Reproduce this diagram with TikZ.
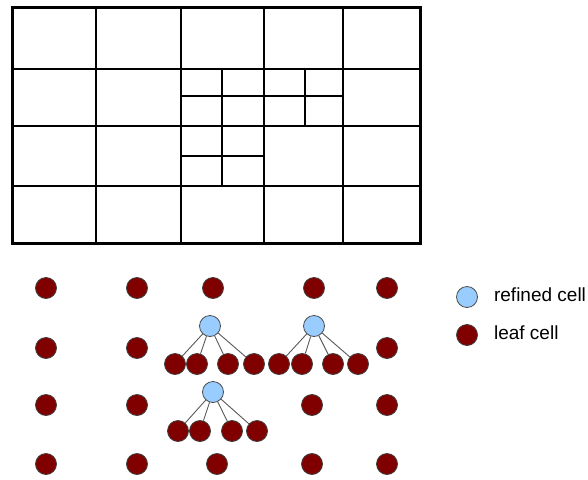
\documentclass[tikz,border=0pt]{standalone}
\usepackage{fontspec}
\setmainfont{Liberation Sans}
\usetikzlibrary{positioning}
\definecolor{leafred}{RGB}{128,0,0}
\definecolor{refinedblue}{RGB}{153,204,255}
\tikzset{
    cellline/.style={line width=1.6pt, black},
    outline/.style={line width=3pt, black},
    leaf/.style={circle, minimum size=21pt, inner sep=0pt, draw=black!75, line width=0.8pt, fill=leafred},
    refined/.style={circle, minimum size=21pt, inner sep=0pt, draw=black!70, line width=0.8pt, fill=refinedblue},
    edge/.style={draw=black!65, line width=0.9pt},
    legendtext/.style={font=\fontsize{19}{22}\selectfont, anchor=west, inner sep=0pt}
}
\begin{document}
\begin{tikzpicture}[x=1pt, y=-1pt]
    \useasboundingbox (0,0) rectangle (588,479);
    % mesh
    \draw [cellline] (96,7) -- (96,243);
    \draw [cellline] (181,7) -- (181,243);
    \draw [cellline] (264,7) -- (264,243);
    \draw [cellline] (343,7) -- (343,243);
    \draw [cellline] (12,69) -- (420,69);
    \draw [cellline] (12,126) -- (420,126);
    \draw [cellline] (12,186) -- (420,186);
    \draw [cellline] (222,69) -- (222,186);
    \draw [cellline] (305,69) -- (305,126);
    \draw [cellline] (181,96) -- (343,96);
    \draw [cellline] (181,156) -- (264,156);
    \draw [outline] (12,7) rectangle (420,243);

    % tree: top level leaves
    \node (l11) [leaf] at (46,288) {};
    \node (l12) [leaf] at (137,288) {};
    \node (l13) [leaf] at (213,288) {};
    \node (l14) [leaf] at (314,288) {};
    \node (l15) [leaf] at (387,288) {};
    \node (l21) [leaf] at (46,348) {};
    \node (l22) [leaf] at (137,348) {};
    \node (l25) [leaf] at (387,348) {};
    \node (l31) [leaf] at (46,405) {};
    \node (l32) [leaf] at (137,405) {};
    \node (l34) [leaf] at (312,405) {};
    \node (l35) [leaf] at (387,405) {};
    \node (l41) [leaf] at (46,464) {};
    \node (l42) [leaf] at (137,464) {};
    \node (l43) [leaf] at (217,464) {};
    \node (l44) [leaf] at (312,464) {};
    \node (l45) [leaf] at (387,464) {};

    % refined cells and their children
    \node (ra) [refined] at (210,326) {};
    \node (ra1) [leaf] at (175,364) {};
    \node (ra2) [leaf] at (197,364) {};
    \node (ra3) [leaf] at (228,364) {};
    \node (ra4) [leaf] at (254,364) {};
    \node (rb) [refined] at (314,326) {};
    \node (rb1) [leaf] at (279,364) {};
    \node (rb2) [leaf] at (302,364) {};
    \node (rb3) [leaf] at (333,364) {};
    \node (rb4) [leaf] at (358,364) {};
    \node (rc) [refined] at (213,392) {};
    \node (rc1) [leaf] at (178,431) {};
    \node (rc2) [leaf] at (200,431) {};
    \node (rc3) [leaf] at (232,431) {};
    \node (rc4) [leaf] at (257,431) {};

    \draw [edge] (ra) -- (ra1);
    \draw [edge] (ra) -- (ra2);
    \draw [edge] (ra) -- (ra3);
    \draw [edge] (ra) -- (ra4);
    \draw [edge] (rb) -- (rb1);
    \draw [edge] (rb) -- (rb2);
    \draw [edge] (rb) -- (rb3);
    \draw [edge] (rb) -- (rb4);
    \draw [edge] (rc) -- (rc1);
    \draw [edge] (rc) -- (rc2);
    \draw [edge] (rc) -- (rc3);
    \draw [edge] (rc) -- (rc4);

    % legend
    \node (keyrefined) [refined] at (467,297) {};
    \node (keyleaf) [leaf] at (467,335) {};
    \node (keyrefinedtext) [legendtext, right=16pt of keyrefined, yshift=2pt] {refined cell};
    \node (keyleaftext) [legendtext, right=16pt of keyleaf, yshift=2pt] {leaf cell};
\end{tikzpicture}
\end{document}
